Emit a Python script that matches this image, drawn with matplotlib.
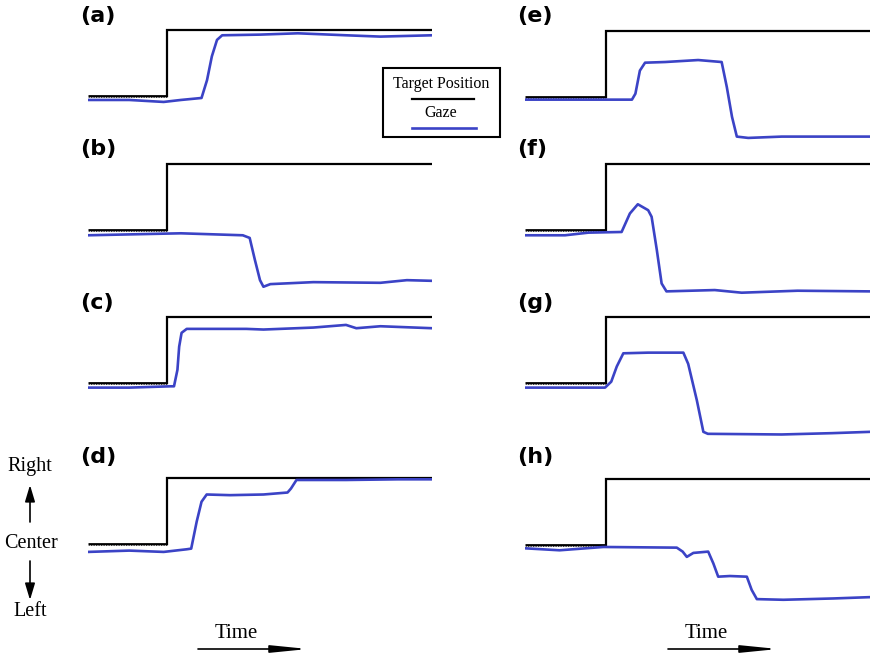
import matplotlib.pyplot as plt
from matplotlib.patches import Rectangle

W, H = 872, 656

# time runs 0..100 across each panel, target steps from center (0) to right (1)
STEP_LEFT = 23.0
STEP_RIGHT = 23.4

labels = ['(a)', '(b)', '(c)', '(d)', '(e)', '(f)', '(g)', '(h)']

gaze_a_t = [0, 12, 22, 27, 33, 34.6, 36, 37.5, 39, 50, 61, 75, 85, 100]
gaze_a_y = [-0.06, -0.06, -0.09, -0.06, -0.03, 0.24, 0.6, 0.85, 0.92, 0.93, 0.95, 0.92, 0.9, 0.92]

gaze_b_t = [0, 27, 45, 47, 48.5, 50, 51, 53, 65.5, 85, 92.7, 100]
gaze_b_y = [-0.08, -0.05, -0.08, -0.12, -0.45, -0.76, -0.86, -0.82, -0.79, -0.8, -0.76, -0.77]

gaze_c_t = [0, 12, 24, 25, 26, 26.5, 27.2, 28.7, 46, 51, 65.5, 75, 78, 85, 100]
gaze_c_y = [-0.07, -0.07, -0.05, -0.05, 0.2, 0.55, 0.76, 0.82, 0.82, 0.81, 0.84, 0.88, 0.83, 0.86, 0.83]

gaze_d_t = [0, 12, 22, 28.7, 30, 31.6, 33, 34.5, 41.3, 51, 58, 59, 60.6, 75, 90, 100]
gaze_d_y = [-0.12, -0.1, -0.12, -0.08, -0.07, 0.34, 0.64, 0.75, 0.74, 0.75, 0.78, 0.84, 0.97, 0.97, 0.98, 0.98]

gaze_e_t = [0, 16.4, 31, 32, 33.3, 34.8, 40.6, 50.2, 57, 58.5, 60, 61.4, 64.7, 74.4, 100]
gaze_e_y = [-0.04, -0.04, -0.04, 0.05, 0.4, 0.52, 0.53, 0.56, 0.53, 0.15, -0.3, -0.6, -0.62, -0.6, -0.6]

gaze_f_t = [0, 11.6, 18.4, 28, 30.4, 32.7, 35.7, 36.7, 38.2, 39.6, 41, 55, 62.8, 79, 100]
gaze_f_y = [-0.08, -0.08, -0.04, -0.03, 0.25, 0.39, 0.3, 0.2, -0.3, -0.81, -0.93, -0.91, -0.95, -0.92, -0.93]

gaze_g_t = [0, 23.2, 25, 26.6, 28.5, 35.7, 45.9, 47.3, 49.8, 51.7, 53, 74.4, 89, 100]
gaze_g_y = [-0.07, -0.07, 0.02, 0.25, 0.45, 0.46, 0.46, 0.29, -0.26, -0.74, -0.77, -0.78, -0.76, -0.74]

gaze_h_t = [0, 10, 22.7, 44, 45.7, 46.9, 48.8, 53.1, 54.6, 56, 59.4, 64.3, 65.7, 67.2, 74.9, 89.4, 100]
gaze_h_y = [-0.05, -0.08, -0.03, -0.04, -0.1, -0.18, -0.12, -0.1, -0.28, -0.48, -0.47, -0.48, -0.68,
            -0.82, -0.83, -0.81, -0.79]

gaze_t = [gaze_a_t, gaze_b_t, gaze_c_t, gaze_d_t, gaze_e_t, gaze_f_t, gaze_g_t, gaze_h_t]
gaze_y = [gaze_a_y, gaze_b_y, gaze_c_y, gaze_d_y, gaze_e_y, gaze_f_y, gaze_g_y, gaze_h_y]

# panel placement (pixels): x extent of each column, y of the "center" level
col_x = [(88, 432), (525, 870)]
center_px = [96, 230, 383, 544, 97, 230, 383, 545]
unit_px = 66
label_pos = [(80, 16), (80, 149), (80, 303), (80, 457),
             (517, 16), (517, 149), (517, 303), (517, 457)]

GAZE_COLOR = '#3b43c6'
YLO, YHI = -1.1, 1.2

fig = plt.figure(figsize=(W / 100, H / 100), dpi=100)

for i in range(8):
    col = i // 4
    x0, x1 = col_x[col]
    step = STEP_LEFT if col == 0 else STEP_RIGHT
    top = center_px[i] - YHI * unit_px
    bot = center_px[i] - YLO * unit_px
    ax = fig.add_axes([x0 / W, 1 - bot / H, (x1 - x0) / W, (bot - top) / H])
    ax.set_xlim(0, 100)
    ax.set_ylim(YLO, YHI)
    ax.axis('off')

    # target position
    ax.plot([0, step], [0, 0], color='black', lw=2.0, solid_capstyle='butt')
    ax.plot([0, step], [-0.02, -0.02], color='white', lw=0.6, ls=(0, (1, 1)))
    ax.plot([step, step, 100], [0, 1, 1], color='black', lw=1.6, solid_joinstyle='miter')
    # gaze
    ax.plot(gaze_t[i], gaze_y[i], color=GAZE_COLOR, lw=1.9, zorder=3,
            solid_joinstyle='round', solid_capstyle='round')

    lx, ly = label_pos[i]
    fig.text(lx / W, 1 - ly / H, labels[i], fontsize=16, fontweight='bold',
             family='DejaVu Sans', ha='left', va='center')

# decorations drawn in pixel coordinates
ov = fig.add_axes([0, 0, 1, 1])
ov.set_xlim(0, W)
ov.set_ylim(H, 0)
ov.axis('off')
ov.patch.set_alpha(0)

serif = 'Liberation Serif'

# legend box
ov.add_patch(Rectangle((383, 68), 117, 69, fill=False, lw=1.5, edgecolor='black'))
ov.text(441, 84, 'Target Position', family=serif, fontsize=11.5, ha='center', va='center')
ov.plot([412, 474], [99, 99], color='black', lw=1.6)
ov.text(441, 113, 'Gaze', family=serif, fontsize=11.5, ha='center', va='center')
ov.plot([412, 476], [128, 128], color=GAZE_COLOR, lw=1.9)

# left axis annotation
ov.text(30, 466, 'Right', family=serif, fontsize=14.5, ha='center', va='center')
ov.text(31, 543, 'Center', family=serif, fontsize=14.5, ha='center', va='center')
ov.text(30, 611, 'Left', family=serif, fontsize=14.5, ha='center', va='center')
arrow_v = dict(arrowstyle='-|>,head_length=1.0,head_width=0.3', color='black', lw=1.2,
               mutation_scale=10, shrinkA=0, shrinkB=0)
ov.annotate('', xy=(30, 485), xytext=(30, 522), arrowprops=arrow_v)
ov.annotate('', xy=(30, 600), xytext=(30, 561), arrowprops=arrow_v)

# time arrows
arrow_h = dict(arrowstyle='-|>,head_length=2.2,head_width=0.22', color='black', lw=1.2,
               mutation_scale=10, shrinkA=0, shrinkB=0)
for tx, a0, a1 in [(236, 198, 308), (706, 668, 778)]:
    ov.text(tx, 633, 'Time', family=serif, fontsize=15, ha='center', va='center')
    ov.annotate('', xy=(a1, 649), xytext=(a0, 649), arrowprops=arrow_h)

fig.savefig('out.png', dpi=100)
